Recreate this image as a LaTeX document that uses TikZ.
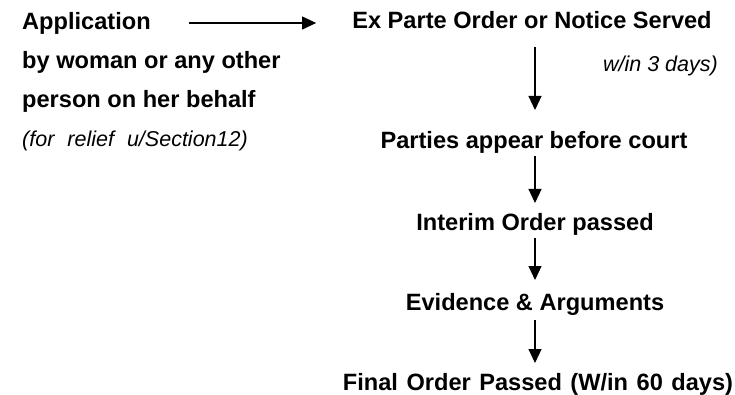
\documentclass[tikz,border=0pt]{standalone}
\usepackage{fontspec}
\setmainfont{Liberation Sans}
\usetikzlibrary{arrows.meta}
\tikzset{
  bt/.style={inner sep=0pt, font=\fontsize{23.6}{27}\selectfont\bfseries},
  it/.style={inner sep=0pt, font=\fontsize{21.5}{25}\selectfont\itshape},
  arr/.style={line width=1.1pt, -{Triangle[length=14pt,width=13pt]}}
}
\begin{document}
\begin{tikzpicture}[x=1pt,y=1pt]
\useasboundingbox (0,0) rectangle (735,-395);
% left column
\node[bt, anchor=base west] (app) at (22,-30) {Application};
\node[bt, anchor=base west] (by) at (22,-69) {by woman or any other};
\node[bt, anchor=base west] (per) at (22,-108) {person on her behalf};
\node[it, anchor=base west] (rel) at (22,-147) {(for\hspace{13pt}relief\hspace{13pt}u/Section12)};
% right column
\node[bt, anchor=base] (ex) at (532,-29) {Ex Parte Order or Notice Served};
\node[it, anchor=base east] (days) at (718,-72) {w/in 3 days)};
\node[bt, anchor=base] (par) at (534,-149) {Parties appear before court};
\node[bt, anchor=base] (int) at (535,-230) {Interim Order passed};
\node[bt, anchor=base] (evi) at (535,-310) {Evidence \& Arguments};
\node[bt, anchor=base] (fin) at (538,-390) {\spaceskip=8.5pt plus 1pt Final Order Passed (W/in 60 days)};
% arrows
\draw[arr] ([shift={(38pt,7pt)}]app.base east) -- ([shift={(-36pt,6pt)}]ex.base west);
\draw[arr] ([shift={(3pt,-18pt)}]ex.base) -- ([shift={(3pt,39pt)}]ex.base |- par.base);
\draw[arr] ([shift={(1pt,-7pt)}]par.base) -- ([shift={(1pt,27pt)}]par.base |- int.base);
\draw[arr] ([yshift=-8pt]int.base) -- ([yshift=30pt]int.base |- evi.base);
\draw[arr] ([yshift=-10pt]evi.base) -- ([yshift=27pt]evi.base |- fin.base);
\end{tikzpicture}
\end{document}
